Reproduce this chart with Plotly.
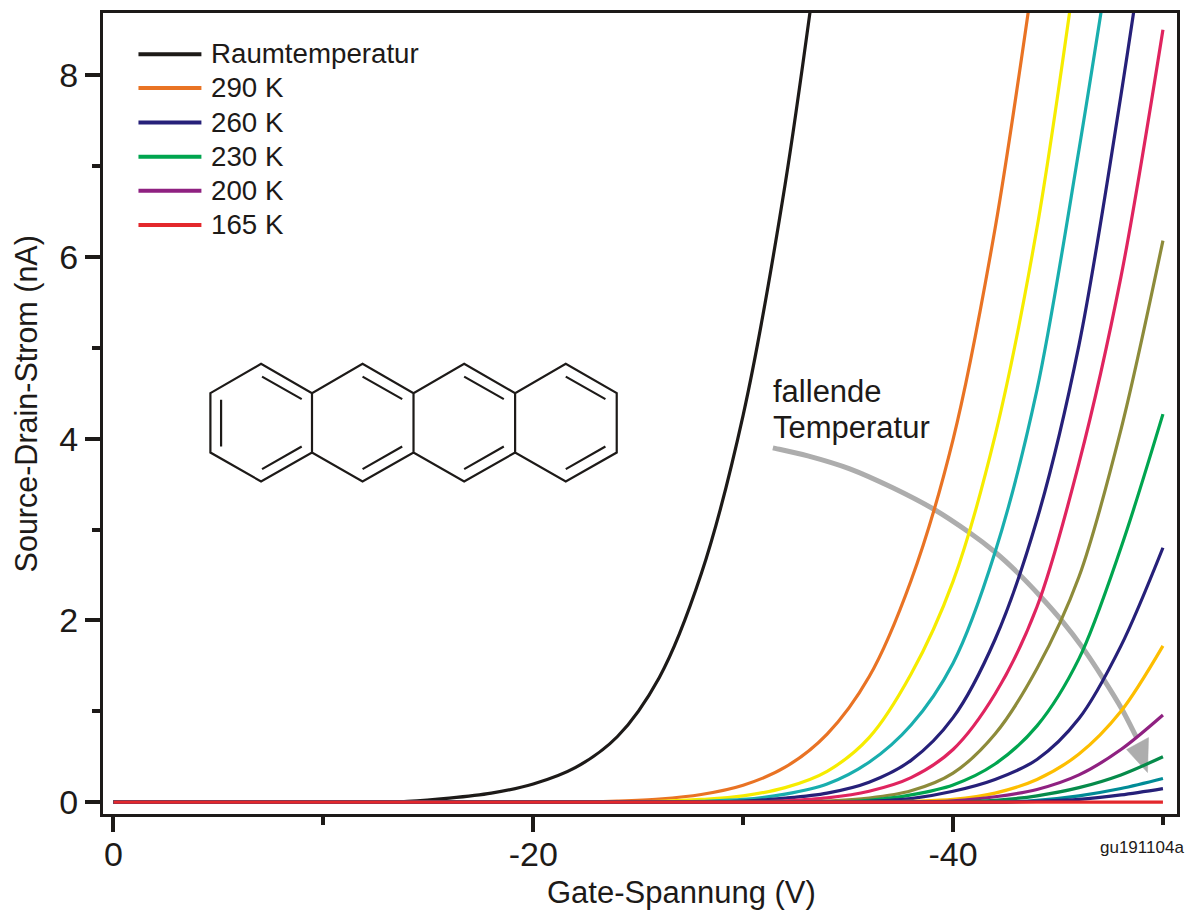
import plotly.graph_objects as go

# ---------- data ----------
GATE_V = [0, -12, -14, -16, -18, -20, -22, -24, -26, -28, -30, -32, -34, -36,
          -38, -40, -42, -44, -46, -48, -50]

I_RT   = [0, 0, .01, .045, .10, .20, .38, .72, 1.37, 2.51, 4.26, 6.80, 10.1]
I_290  = [0, 0, 0, 0, 0, 0, 0, .012, .035, .085, .187, .385, .75, 1.38, 2.44, 3.99, 6.31, 9.37]
I_yel  = [0, 0, 0, 0, 0, 0, 0, 0, .008, .03, .07, .16, .34, .71, 1.41, 2.43, 4.03, 6.32, 9.43]
I_tea  = [0, 0, 0, 0, 0, 0, 0, 0, 0, .01, .03, .088, .20, .44, .85, 1.53, 2.75, 4.54, 7.18, 10.1]
I_260  = [0, 0, 0, 0, 0, 0, 0, 0, 0, 0, .012, .044, .10, .22, .46, .93, 1.79, 3.11, 5.03, 7.78, 10.9]
I_pnk  = [0, 0, 0, 0, 0, 0, 0, 0, 0, 0, 0, .015, .047, .12, .27, .58, 1.19, 2.15, 3.73, 5.78, 8.5]
I_olv  = [0, 0, 0, 0, 0, 0, 0, 0, 0, 0, 0, 0, .012, .045, .125, .32, .75, 1.47, 2.48, 4.10, 6.18]
I_230  = [0, 0, 0, 0, 0, 0, 0, 0, 0, 0, 0, 0, 0, .02, .08, .19, .42, .84, 1.58, 2.80, 4.27]
I_nv2  = [0, 0, 0, 0, 0, 0, 0, 0, 0, 0, 0, 0, 0, .01, .04, .12, .25, .47, .92, 1.72, 2.80]
I_gld  = [0, 0, 0, 0, 0, 0, 0, 0, 0, 0, 0, 0, 0, 0, .01, .03, .10, .25, .53, 1.00, 1.72]
I_200  = [0, 0, 0, 0, 0, 0, 0, 0, 0, 0, 0, 0, 0, 0, 0, .015, .06, .14, .30, .58, .96]
I_dgr  = [0, 0, 0, 0, 0, 0, 0, 0, 0, 0, 0, 0, 0, 0, 0, 0, .02, .07, .16, .30, .50]
I_dtl  = [0, 0, 0, 0, 0, 0, 0, 0, 0, 0, 0, 0, 0, 0, 0, 0, 0, .02, .07, .15, .26]
I_nv3  = [0, 0, 0, 0, 0, 0, 0, 0, 0, 0, 0, 0, 0, 0, 0, 0, 0, .01, .03, .08, .15]
I_165  = [0] * 21

CURVE_VALUES = [I_RT, I_290, I_yel, I_tea, I_260, I_pnk, I_olv, I_230, I_nv2,
                I_gld, I_200, I_dgr, I_dtl, I_nv3, I_165]
CURVE_COLORS = ["#1d1a18", "#e97324", "#f6ec00", "#19aeae", "#262079", "#e0245f",
                "#8d8b3a", "#00a54f", "#262079", "#fdbe00", "#8f2181", "#068b4a",
                "#008b96", "#262079", "#e3282c"]
CURVE_NAMES = ["Raumtemperatur", "290 K", "Kurve 3", "Kurve 4", "260 K", "Kurve 6",
               "Kurve 7", "230 K", "Kurve 9", "Kurve 10", "200 K", "Kurve 12",
               "Kurve 13", "Kurve 14", "165 K"]

LEGEND_LABELS = ["Raumtemperatur", "290 K", "260 K", "230 K", "200 K", "165 K"]
LEGEND_COLORS = ["#1d1a18", "#e97324", "#262079", "#00a54f", "#8f2181", "#e3282c"]

X_TICKS = [0, -20, -40]
X_TICK_TEXT = ["0", "-20", "-40"]
X_MINOR = [-10, -30, -50]
Y_TICKS = [0, 2, 4, 6, 8]
Y_MINOR = [1, 3, 5, 7]

# ---------- layout helpers ----------
W, H = 1196, 911
ML, MR, MT, MB = 102.5, 18.5, 12.8, 96.5
INK = "#1d1a18"
FONT = "Liberation Sans"


def px(x):
    return (x - ML) / (W - ML - MR)


def py(y):
    return 1 - (y - MT) / (H - MT - MB)


def path(points, close=False):
    s = "M " + " L ".join(f"{px(a):.5f},{py(b):.5f}" for a, b in points)
    return s + (" Z" if close else "")


def smooth_path(p):
    """Catmull-Rom through the points, written as cubic Bezier segments."""
    s = f"M {px(p[0][0]):.5f},{py(p[0][1]):.5f}"
    for i in range(len(p) - 1):
        a, b, c, d = p[max(i - 1, 0)], p[i], p[i + 1], p[min(i + 2, len(p) - 1)]
        c1 = (b[0] + (c[0] - a[0]) / 6, b[1] + (c[1] - a[1]) / 6)
        c2 = (c[0] - (d[0] - b[0]) / 6, c[1] - (d[1] - b[1]) / 6)
        s += (f" C {px(c1[0]):.5f},{py(c1[1]):.5f} {px(c2[0]):.5f},{py(c2[1]):.5f}"
              f" {px(c[0]):.5f},{py(c[1]):.5f}")
    return s


fig = go.Figure()
for vals, col, name in zip(CURVE_VALUES, CURVE_COLORS, CURVE_NAMES):
    fig.add_trace(go.Scatter(
        x=GATE_V[:len(vals)], y=vals, mode="lines", name=name, showlegend=False,
        line=dict(color=col, width=3.2, shape="spline", smoothing=0.9),
    ))

shapes = []
# legend keys
LEG_Y = [54, 87.8, 122.5, 156.7, 190.7, 225]
for c, y in zip(LEGEND_COLORS, LEG_Y):
    shapes.append(dict(type="line", xref="paper", yref="paper", x0=px(138), x1=px(201),
                       y0=py(y), y1=py(y), line=dict(color=c, width=4)))

# tetracene sketch
MX = [210, 260.7, 311.7, 362.3, 413.3, 464, 515, 565.7, 616.7]
Y1, Y2, Y3, Y4 = 364, 393.3, 452.7, 481.7
outline = [(MX[0], Y2), (MX[1], Y1), (MX[2], Y2), (MX[3], Y1), (MX[4], Y2), (MX[5], Y1),
           (MX[6], Y2), (MX[7], Y1), (MX[8], Y2), (MX[8], Y3), (MX[7], Y4), (MX[6], Y3),
           (MX[5], Y4), (MX[4], Y3), (MX[3], Y4), (MX[2], Y3), (MX[1], Y4), (MX[0], Y3)]
mol = [path(outline, True)]
for xj in (MX[2], MX[4], MX[6]):
    mol.append(path([(xj, Y2), (xj, Y3)]))
mol.append(path([(220.7, 400), (220.7, 446.7)]))
for x0 in (261.7, 362.3, 464, 565.7):
    mol.append(path([(x0, 376.7), (x0 + 39.7, 399.3)]))
    mol.append(path([(x0, 469.3), (x0 + 39.7, 446.7)]))
shapes.append(dict(type="path", xref="paper", yref="paper", path=" ".join(mol),
                   line=dict(color=INK, width=2.2), layer="below"))

# grey arrow
arc = [(773, 448), (808, 456), (850, 469), (893, 488), (935, 510), (970, 533), (995, 552),
       (1018, 573), (1042, 598), (1063, 622), (1083, 648), (1103, 678), (1122, 709), (1137, 738)]
shapes.append(dict(type="path", xref="paper", yref="paper", path=smooth_path(arc),
                   line=dict(color="#adadad", width=5), layer="below"))
shapes.append(dict(type="path", xref="paper", yref="paper",
                   path=path([(1127, 750), (1149, 738), (1148, 773)], True),
                   fillcolor="#adadad", line=dict(color="#adadad", width=0.5), layer="below"))

ann = []


def text(t, x, y, size, anchor="left", angle=0):
    ann.append(dict(text=t, x=px(x), y=py(y), xref="paper", yref="paper", showarrow=False,
                    xanchor=anchor, yanchor="middle", textangle=angle, borderpad=0,
                    font=dict(family=FONT, size=size, color=INK)))


for lab, y in zip(LEGEND_LABELS, LEG_Y):
    text(lab, 210, y - 0.4, 27.7)
text("fallende", 772, 392, 31)
text("Temperatur", 772, 428, 31)
text("gu191104a", 1186, 848, 17, anchor="right")
text("Gate-Spannung (V)", 682, 893, 31, anchor="center")
text("Source-Drain-Strom (nA)", 26, 404, 30.5, anchor="center", angle=-90)

axis = dict(showgrid=False, zeroline=False, showline=True, mirror=True, linecolor=INK,
            linewidth=3, ticks="outside", tickcolor=INK, tickwidth=3.5, ticklen=15,
            tickfont=dict(family=FONT, size=34, color=INK))

fig.update_layout(
    width=W, height=H, autosize=False, paper_bgcolor="white", plot_bgcolor="white",
    margin=dict(l=ML, r=MR, t=MT, b=MB, autoexpand=False), showlegend=False,
    xaxis=dict(axis, range=[0.5, -50.67], tickvals=X_TICKS, ticktext=X_TICK_TEXT,
               ticklabelstandoff=-7,
               minor=dict(tickvals=X_MINOR, ticks="outside", ticklen=8, tickwidth=3.5, tickcolor=INK)),
    yaxis=dict(axis, range=[-0.13, 8.684], tickvals=Y_TICKS, ticktext=[str(v) for v in Y_TICKS],
               minor=dict(tickvals=Y_MINOR, ticks="outside", ticklen=8, tickwidth=3.5, tickcolor=INK)),
    shapes=shapes, annotations=ann,
)

fig.write_html("out.html", config={"displayModeBar": False},
               post_script="document.body.style.margin='0';")
